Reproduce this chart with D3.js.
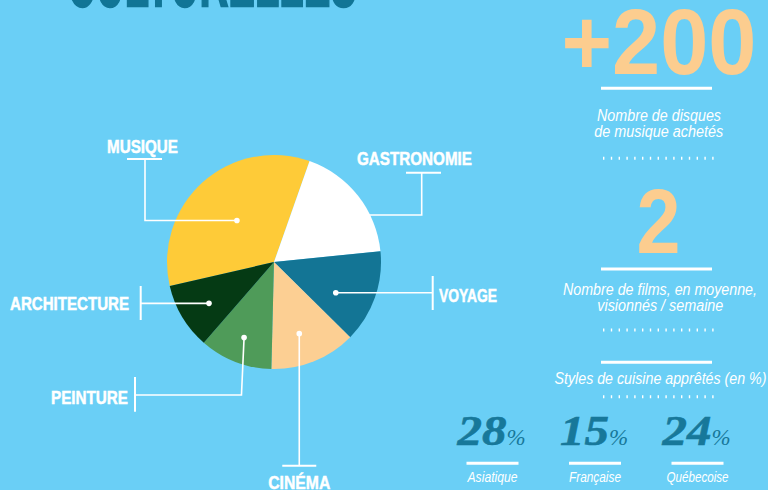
<!DOCTYPE html>
<html>
<head>
<meta charset="utf-8">
<script src="https://cdn.jsdelivr.net/npm/d3@7"></script>
<style>
  html, body { margin: 0; padding: 0; background: #6ACFF6; }
  svg { display: block; }
  .cond { font-family: "Liberation Sans", Arial, "Roboto", sans-serif; }
</style>
</head>
<body>
<svg id="chart" width="768" height="490"></svg>
<script>
// ---- data ----
const titleText = "CULTURELLES";
const categories = ["MUSIQUE", "GASTRONOMIE", "VOYAGE", "CINÉMA", "PEINTURE", "ARCHITECTURE"];
const shares = [34, 18, 14, 13, 11, 10];
const sliceColors = ["#FECB38", "#FFFFFF", "#137595", "#FCCF93", "#4F9B59", "#053A14"];

const statValues = ["+200", "2"];
const statLabels = [["Nombre de disques", "de musique achetés"],
                    ["Nombre de films, en moyenne,", "visionnés / semaine"]];
const cuisineTitle = "Styles de cuisine apprêtés (en %)";
const cuisineTypes = ["Asiatique", "Française", "Québecoise"];
const cuisineShares = [28, 15, 24];

// ---- layout ----
const W = 768, H = 490;
const svg = d3.select("#chart");
const bg = "#6ACFF6";
const peach = "#FCCD8F";
const white = "#FFFFFF";

svg.append("rect").attr("width", W).attr("height", H).attr("fill", bg);

// cut-off title
svg.append("text").attr("class", "cond")
  .attr("x", 67).attr("y", 6)
  .attr("textLength", 290).attr("lengthAdjust", "spacingAndGlyphs")
  .attr("font-size", 84).attr("font-weight", "900")
  .attr("stroke", "#117596").attr("stroke-width", 2.5)
  .attr("fill", "#117596").text(titleText);

// ---- pie ----
const cx = 274, cy = 262, R = 107;
const start = 257 * Math.PI / 180;
const pie = d3.pie().sort(null).value(d => d).startAngle(start).endAngle(start + 2 * Math.PI);
const arcs = pie(shares);
const arc = d3.arc().innerRadius(0).outerRadius(R);

const g = svg.append("g").attr("transform", `translate(${cx},${cy})`);
g.selectAll("path").data(arcs).join("path")
  .attr("d", arc).attr("fill", (d, i) => sliceColors[i]);

// annotation layout per category
const leaders = {
  "MUSIQUE":      { t: 0.50, r: 0.52, w: 71 },
  "GASTRONOMIE":  { edgeY: 215, w: 115 },
  "VOYAGE":       { t: 0.64, r: 0.645, w: 58 },
  "CINÉMA":       { t: 0.555, r: 0.71, w: 62 },
  "PEINTURE":     { t: 0.51, r: 0.76, w: 77 },
  "ARCHITECTURE": { t: 0.46, r: 0.72, w: 119 }
};
function dotPos(i) {
  const a = arcs[i], L = leaders[categories[i]];
  const ang = a.startAngle + (a.endAngle - a.startAngle) * L.t;
  const rr = R * L.r;
  return [cx + rr * Math.sin(ang), cy - rr * Math.cos(ang)];
}
const ann = svg.append("g").attr("stroke", white).attr("stroke-width", 1.6).attr("fill", "none");
const labG = svg.append("g").attr("class", "cond").attr("fill", white)
  .attr("stroke", white).attr("stroke-width", 0.5)
  .attr("font-weight", "bold").attr("font-size", 18.5);
const line = d3.line();
function label(c, x, y, anchor) {
  labG.append("text").attr("x", x).attr("y", y).attr("text-anchor", anchor)
    .attr("textLength", leaders[c].w).attr("lengthAdjust", "spacingAndGlyphs").text(c);
}

categories.forEach((c, i) => {
  if (c === "MUSIQUE") {
    const [x, y] = dotPos(i);
    ann.append("path").attr("d", line([[x, y], [145, y], [145, 159]]));
    ann.append("path").attr("d", line([[127, 159], [162, 159]])).attr("stroke-width", 2);
    label(c, 142.5, 153, "middle");
  } else if (c === "GASTRONOMIE") {
    const y = leaders[c].edgeY;
    const x = cx + Math.sqrt(R * R - (y - cy) * (y - cy));
    ann.append("path").attr("d", line([[x - 1, y], [421.7, y], [421.7, 172.7]]));
    ann.append("path").attr("d", line([[406, 172.7], [441, 172.7]])).attr("stroke-width", 2);
    label(c, 414.5, 165, "middle");
  } else if (c === "VOYAGE") {
    const [x, y] = dotPos(i);
    ann.append("path").attr("d", line([[x, y], [432.7, y]]));
    ann.append("path").attr("d", line([[432.7, 276], [432.7, 310]])).attr("stroke-width", 2);
    label(c, 439, 302, "start");
  } else if (c === "ARCHITECTURE") {
    const [x, y] = dotPos(i);
    ann.append("path").attr("d", line([[x, y], [140.7, y]]));
    ann.append("path").attr("d", line([[140.7, 286], [140.7, 320]])).attr("stroke-width", 2);
    label(c, 129, 310, "end");
  } else if (c === "PEINTURE") {
    const [x, y] = dotPos(i);
    ann.append("path").attr("d", line([[x, y], [x - 2.6, 395], [135, 395]]));
    ann.append("path").attr("d", line([[135, 377], [135, 411.7]])).attr("stroke-width", 2);
    label(c, 128, 404, "end");
  } else if (c === "CINÉMA") {
    const [x, y] = dotPos(i);
    ann.append("path").attr("d", line([[x, y], [x, 465.7]]));
    ann.append("path").attr("d", line([[x - 17, 465.7], [x + 17, 465.7]])).attr("stroke-width", 2);
    label(c, x, 489, "middle");
  }
  if (c !== "GASTRONOMIE") {
    const [x, y] = dotPos(i);
    svg.append("circle").attr("cx", x).attr("cy", y).attr("r", 2.8).attr("fill", white);
  }
});

// ---- right column ----
function whiteBar(y, x0, x1) {
  svg.append("line").attr("x1", x0).attr("x2", x1).attr("y1", y).attr("y2", y)
    .attr("stroke", white).attr("stroke-width", 3);
}
function dots(y) {
  svg.append("line").attr("x1", 603).attr("x2", 714).attr("y1", y).attr("y2", y)
    .attr("stroke", white).attr("stroke-width", 3).attr("stroke-dasharray", "1.4,6.4");
}
function caption(x, y, txt, size, len) {
  const t = svg.append("text").attr("class", "cond").attr("x", x).attr("y", y)
    .attr("text-anchor", "middle").attr("font-style", "italic")
    .attr("font-size", size).attr("fill", white).text(txt);
  if (len) t.attr("textLength", len).attr("lengthAdjust", "spacingAndGlyphs");
  return t;
}

// +200
svg.append("text").attr("class", "cond").attr("x", 659).attr("y", 74)
  .attr("text-anchor", "middle").attr("font-weight", "bold").attr("font-size", 93)
  .attr("textLength", 195).attr("lengthAdjust", "spacingAndGlyphs")
  .attr("fill", peach).text(statValues[0]);
whiteBar(88.3, 601, 712);
caption(659, 120.6, statLabels[0][0], 16, 124);
caption(658.7, 136.7, statLabels[0][1], 16, 129);
dots(158.3);

// 2
svg.append("text").attr("class", "cond").attr("x", 658.5).attr("y", 253)
  .attr("text-anchor", "middle").attr("font-weight", "bold").attr("font-size", 90)
  .attr("textLength", 44).attr("lengthAdjust", "spacingAndGlyphs")
  .attr("fill", peach).text(statValues[1]);
whiteBar(269, 601, 712);
caption(660, 295, statLabels[1][0], 16, 194);
caption(660.3, 310.7, statLabels[1][1], 16, 126);
dots(330);

// cuisine
whiteBar(362.3, 601, 712);
caption(660.5, 384, cuisineTitle, 16, 212);
dots(396.7);

const cuisineX = d3.scalePoint().domain(cuisineTypes).range([492.5, 697.5]);
const cuisineW = [50, 52, 62];
cuisineTypes.forEach((c, i) => {
  const x = cuisineX(c);
  svg.append("text").attr("x", x + 14).attr("y", 445).attr("text-anchor", "end")
    .attr("font-family", "'Liberation Serif', 'DejaVu Serif', serif")
    .attr("font-style", "italic").attr("font-weight", "bold")
    .attr("font-size", 43).attr("fill", "#17789A")
    .attr("stroke", "#17789A").attr("stroke-width", 0.6)
    .attr("textLength", 49).attr("lengthAdjust", "spacingAndGlyphs")
    .text(cuisineShares[i]);
  svg.append("text").attr("x", x + 14).attr("y", 445)
    .attr("font-family", "'Liberation Serif', 'DejaVu Serif', serif")
    .attr("font-style", "italic").attr("font-size", 23).attr("fill", "#17789A")
    .text("%");
  whiteBar(463.3, x - 26, x + 26);
  caption(x, 481.5, c, 14.5, cuisineW[i]);
});
</script>
</body>
</html>
